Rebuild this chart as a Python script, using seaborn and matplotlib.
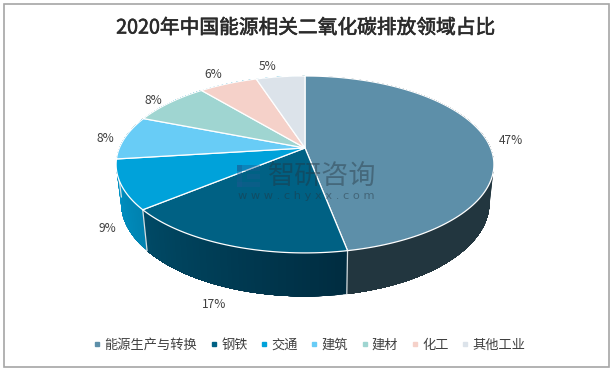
import matplotlib
matplotlib.use('Agg')
import matplotlib.pyplot as plt
import matplotlib.patheffects as pe
from matplotlib.lines import Line2D
from matplotlib.patches import Rectangle
import seaborn as sns
import numpy as np

title = '2020年中国能源相关二氧化碳排放领域占比'
categories = ['能源生产与转换', '钢铁', '交通', '建筑', '建材', '化工', '其他工业']
shares = [47, 17, 9, 8, 8, 6, 5]
top_colors = ['#5d8fa9', '#006184', '#00a2da', '#68ccf6', '#9fd5d1', '#f5d1c9', '#dce3ea']
# wall colours at the start and the end of each slice (only the front ones show)
wall_start = ['#33484f', '#002c40', '#0082b0', '#0095c8', '#0095c8', '#0095c8', '#0095c8']
wall_end = ['#22363f', '#004a66', '#0095c8', '#0095c8', '#0095c8', '#0095c8', '#0095c8']

# where the percent labels sit, pixels
label_x = [511, 214, 107, 105, 153, 213, 268]
label_y = [141, 304, 229, 138, 100, 75, 66]


# the pie is a circle seen in perspective, so both faces go through this
def project(t, cx, cy, rx, ry):
    X, Y = np.cos(t), np.sin(t)
    d = 1 + 0.186 * Y
    return cx + rx * X / d, cy - ry * Y / d


def top_face(t):
    return project(t, 305, 148, 185.6, 85.4)


def bottom_face(t):
    return project(t, 305.3, 185.5, 181, 90.3)


sns.set_theme(style='white')
plt.rcParams['font.family'] = ['Noto Sans CJK SC', 'DejaVu Sans']

fig = plt.figure(figsize=(6.12, 3.68), dpi=100)
ax = fig.add_axes([0, 0, 1, 1])
ax.set_xlim(0, 612)
ax.set_ylim(368, 0)
ax.axis('off')

ax.add_patch(Rectangle((4, 4), 605, 362.5, fill=False, edgecolor='#a6a6a6', lw=1.2))

cum = np.concatenate([[0], np.cumsum(shares)]) / sum(shares)
# clockwise from twelve o'clock
angles = np.pi / 2 - 2 * np.pi * cum
palette = sns.color_palette(top_colors)

# side walls first, each strip runs to the end of the slice and the next paints over it
for i in range(len(shares)):
    ts = np.linspace(angles[i], angles[i + 1], 60)
    c0 = np.array(matplotlib.colors.to_rgb(wall_start[i]))
    c1 = np.array(matplotlib.colors.to_rgb(wall_end[i]))
    for j in range(len(ts) - 1):
        seg = ts[j:]
        x1, y1 = top_face(seg)
        x2, y2 = bottom_face(seg)
        f = j / (len(ts) - 2)
        if i == 0:
            f = min(1, f * 3.5)
        col = c0 + (c1 - c0) * f
        ax.fill(np.r_[x1, x2[::-1]], np.r_[y1, y2[::-1]], facecolor=col, edgecolor='none', zorder=2)

# separators on the front wall
for k in [1, 2, 3]:
    x1, y1 = top_face(angles[k])
    x2, y2 = bottom_face(angles[k])
    ax.plot([x1, x2], [y1, y2], color='#d5dde0', lw=0.9, zorder=3)

# top faces
for i in range(len(shares)):
    ts = np.linspace(angles[i], angles[i + 1], 120)
    x, y = top_face(ts)
    ax.fill(np.r_[305, x], np.r_[148, y], facecolor=palette[i], edgecolor='white', lw=0.9, zorder=4)

for s, lx, ly in zip(shares, label_x, label_y):
    ax.text(lx, ly, f'{s}%', ha='center', va='center', fontsize=8.6, color='#404040', zorder=6)

ax.text(306, 28, title, ha='center', va='center', fontsize=14.2, color='#2b2b2b', zorder=6,
        path_effects=[pe.withStroke(linewidth=0.45, foreground='#2b2b2b')])

# watermark
for bx, by, bw, bh in [(237, 165, 23, 6), (237, 165, 5, 22), (237, 182, 23, 5), (247, 174, 13, 5)]:
    ax.add_patch(Rectangle((bx, by), bw, bh, facecolor='#1a5a90', edgecolor='none', alpha=0.4, zorder=5))
ax.text(322, 176, '智研咨询', ha='center', va='center', fontsize=19.5, color='#24333d', alpha=0.42, zorder=5)
ax.text(306, 196, 'w w w . c h y x x . c o m', ha='center', va='center', fontsize=8.2, color='#24333d', alpha=0.45,
        family='DejaVu Sans', zorder=5)

handles = [Line2D([], [], marker='s', ls='none', ms=3.1, mfc=c, mec=c) for c in palette]
ax.legend(handles, categories, loc='center', bbox_to_anchor=(310, 345), bbox_transform=ax.transData,
          ncol=7, frameon=False, prop={'size': 9.5}, labelcolor='#404040',
          handlelength=0.4, handletextpad=0.35, columnspacing=1.05, borderpad=0, borderaxespad=0)

fig.savefig('out.png', dpi=100)
